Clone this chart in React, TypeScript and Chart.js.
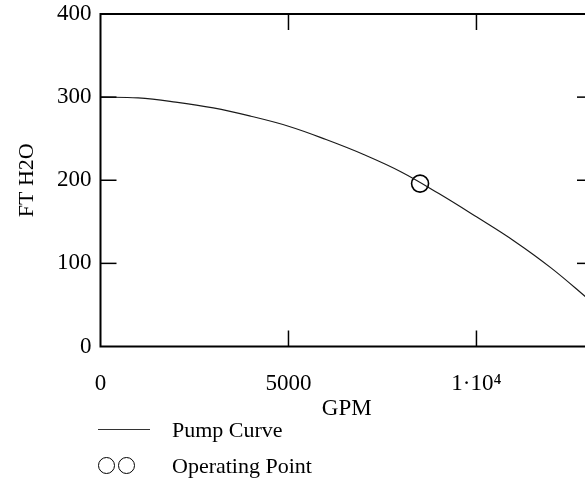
import React, { useEffect, useRef } from "react";
import { Chart, registerables } from "chart.js";

Chart.register(...registerables);

// ---- data ----
const flowGpm = [0, 1000, 2000, 3000, 4000, 5000, 6000, 7000, 8000, 9000, 10000, 11000, 12000, 13000, 13100];
const headFt = [300, 299, 294, 287, 277, 265, 249, 231, 210, 184, 156, 127, 94, 56, 52];
const opFlow = [8500];
const opHead = [196];
const xTickValues = [0, 5000, 10000];
const yTickValues = [0, 100, 200, 300, 400];
const xInnerTicks = [5000, 10000];
const yInnerTicks = [100, 200, 300];
const xMin = 0;
const xMax = 13100;
const yMin = 0;
const yMax = 400;
const xTitle = "GPM";
const yTitle = "FT H2O";
const legendLabels = ["Pump Curve", "Operating Point"];

const FONT = "'Liberation Serif', 'Times New Roman', serif";

const frameTicks = {
  id: "frameTicks",
  afterDatasetsDraw(chart: any) {
    const { ctx, chartArea, scales } = chart;
    const { left, right, top, bottom } = chartArea;
    const x = scales.x;
    const y = scales.y;
    const L = 16;
    ctx.save();
    ctx.strokeStyle = "#000";
    ctx.lineWidth = 2;
    ctx.strokeRect(left, top, right - left, bottom - top);
    ctx.lineWidth = 1.5;
    const seg = (x1: number, y1: number, x2: number, y2: number) => {
      ctx.beginPath();
      ctx.moveTo(x1, y1);
      ctx.lineTo(x2, y2);
      ctx.stroke();
    };
    for (const v of xInnerTicks) {
      const px = x.getPixelForValue(v);
      seg(px, bottom, px, bottom - L);
      seg(px, top, px, top + L);
    }
    for (const v of yInnerTicks) {
      const py = y.getPixelForValue(v);
      seg(left, py, left + L, py);
      seg(right, py, right - L, py);
    }
    ctx.restore();
  },
};

export default function App() {
  const canvasRef = useRef<HTMLCanvasElement | null>(null);

  useEffect(() => {
    const canvas = canvasRef.current;
    if (!canvas) return;
    const chart = new Chart(canvas, {
      type: "line",
      data: {
        datasets: [
          {
            type: "line",
            label: legendLabels[0],
            data: flowGpm.map((q, i) => ({ x: q, y: headFt[i] })),
            borderColor: "#1a1a1a",
            borderWidth: 1.2,
            pointRadius: 0,
            tension: 0.4,
            fill: false,
          },
          {
            type: "scatter",
            label: legendLabels[1],
            data: opFlow.map((q, i) => ({ x: q, y: opHead[i] })),
            pointRadius: 8.5,
            pointBorderWidth: 1.6,
            pointBorderColor: "#000",
            pointBackgroundColor: "rgba(0,0,0,0)",
            showLine: false,
          } as any,
        ],
      },
      options: {
        responsive: false,
        maintainAspectRatio: false,
        devicePixelRatio: 1,
        animation: false,
        layout: { padding: { left: 0, top: 14, right: 17, bottom: 55 } },
        plugins: { legend: { display: false }, tooltip: { enabled: false } },
        scales: {
          x: {
            type: "linear",
            min: xMin,
            max: xMax,
            afterBuildTicks: (s: any) => {
              s.ticks = xTickValues.map((v) => ({ value: v }));
            },
            afterFit: (s: any) => {
              s.height = 83.5;
              s.paddingLeft = 0;
              s.paddingRight = 0;
            },
            grid: { display: false, drawTicks: false },
            border: { display: false },
            ticks: {
              padding: 24,
              color: "#000",
              maxRotation: 0,
              autoSkip: false,
              font: { family: FONT, size: 23 },
              callback: (v: any) => (v === 10000 ? "1·10⁴" : String(v)),
            },
            title: {
              display: true,
              text: xTitle,
              color: "#000",
              font: { family: FONT, size: 23 },
              padding: { top: 0, bottom: 7 },
            },
          },
          y: {
            type: "linear",
            min: yMin,
            max: yMax,
            afterBuildTicks: (s: any) => {
              s.ticks = yTickValues.map((v) => ({ value: v }));
            },
            afterFit: (s: any) => {
              s.width = 100.5;
              s.paddingTop = 0;
              s.paddingBottom = 0;
            },
            grid: { display: false, drawTicks: false },
            border: { display: false },
            ticks: {
              padding: 9,
              color: "#000",
              autoSkip: false,
              font: { family: FONT, size: 23 },
            },
            title: {
              display: true,
              text: yTitle,
              color: "#000",
              font: { family: FONT, size: 22 },
              padding: { top: 14, bottom: 0 },
            },
          },
        },
      },
      plugins: [frameTicks],
    } as any);
    return () => chart.destroy();
  }, []);

  const textStyle: React.CSSProperties = {
    position: "absolute",
    left: 172,
    fontFamily: FONT,
    fontSize: 22,
    lineHeight: "22px",
    color: "#000",
    whiteSpace: "nowrap",
  };

  return (
    <div
      style={{
        position: "fixed",
        left: 0,
        top: 0,
        width: 585,
        height: 485,
        overflow: "hidden",
        background: "#fff",
      }}
    >
      <canvas
        ref={canvasRef}
        width={610}
        height={485}
        style={{ display: "block", width: 610, height: 485 }}
      />
      <div
        style={{
          position: "absolute",
          left: 98,
          top: 429,
          width: 52,
          height: 0,
          borderTop: "1px solid #333",
        }}
      />
      <div style={{ ...textStyle, top: 419 }}>{legendLabels[0]}</div>
      {[106.5, 126.5].map((cx) => (
        <div
          key={cx}
          style={{
            position: "absolute",
            left: cx - 8.5,
            top: 465 - 8.5,
            width: 17,
            height: 17,
            boxSizing: "border-box",
            border: "1.6px solid #000",
            borderRadius: "50%",
          }}
        />
      ))}
      <div style={{ ...textStyle, top: 455 }}>{legendLabels[1]}</div>
    </div>
  );
}
